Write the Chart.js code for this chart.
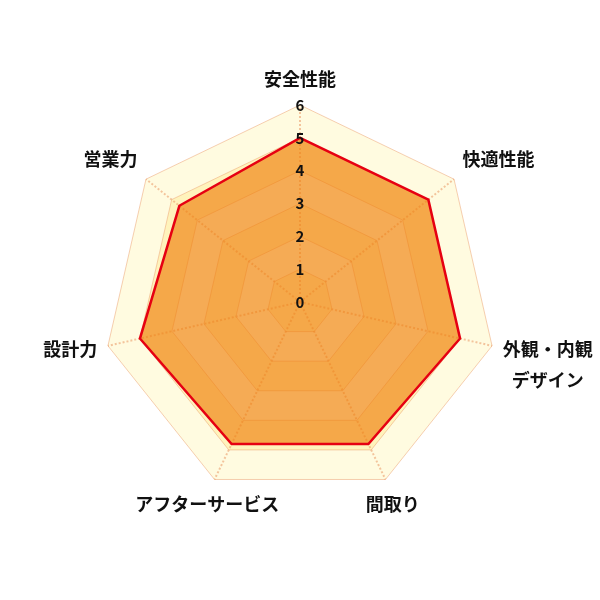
<!DOCTYPE html>
<html lang="ja">
<head>
<meta charset="UTF-8">
<title>評価レーダーチャート</title>
<script src="https://cdn.jsdelivr.net/npm/chart.js"></script>
<style>
  html, body { margin: 0; padding: 0; background: #fff; }
  #wrap { width: 600px; height: 600px; }
</style>
</head>
<body>
<div id="wrap"><canvas id="radar"></canvas></div>
<script>
  const labels = ['安全性能', '快適性能', ['外観・内観', 'デザイン'], '間取り', 'アフターサービス', '設計力', '営業力'];
  const scores = [5, 5, 5, 4.8, 4.8, 5, 4.7];
  const scaleMin = 0;
  const scaleMax = 6;

  const fontFamily = '"Noto Sans CJK JP", "Noto Sans", sans-serif';

  const radarPlugin = {
    id: 'radarExtras',
    // alternating bands behind the grid
    beforeDraw(chart) {
      const r = chart.scales.r;
      const ctx = chart.ctx;
      const n = chart.data.labels.length;
      ctx.save();
      for (let v = scaleMax; v > scaleMin; v--) {
        ctx.beginPath();
        for (let i = 0; i < n; i++) {
          const p = r.getPointPositionForValue(i, v);
          if (i === 0) ctx.moveTo(p.x, p.y); else ctx.lineTo(p.x, p.y);
        }
        ctx.closePath();
        ctx.fillStyle = v % 2 === 0 ? '#FFFBE0' : '#FFF3BC';
        ctx.fill();
      }
      ctx.restore();
    },
    afterDatasetsDraw(chart) {
      const r = chart.scales.r;
      const ctx = chart.ctx;
      ctx.save();
      // chart.js skips the first tick on radial scales, put the 0 back
      ctx.font = 'bold 15px ' + fontFamily;
      ctx.fillStyle = '#111';
      ctx.textAlign = 'center';
      ctx.textBaseline = 'middle';
      ctx.fillText(String(scaleMin), r.xCenter, r.yCenter);

      // axis names, placed just outside the outer ring
      ctx.font = 'bold 18px ' + fontFamily;
      const lineH = 31;
      chart.data.labels.forEach((lab, i) => {
        const lines = Array.isArray(lab) ? lab : [lab];
        const px = r.getPointPosition(i, r.drawingArea + 11);
        const py = r.getPointPosition(i, r.drawingArea + 17);
        const s = Math.sin(py.angle + Math.PI / 2);
        const c = Math.cos(py.angle + Math.PI / 2);
        const w = Math.max(...lines.map(t => ctx.measureText(t).width));
        let cx = py.x;
        if (Math.abs(s) >= 0.5) cx = s > 0 ? px.x + w / 2 : px.x - w / 2;
        ctx.textAlign = 'center';
        ctx.textBaseline = c > 0.5 ? 'bottom' : (c < -0.5 ? 'top' : 'middle');
        lines.forEach((t, k) => ctx.fillText(t, cx, py.y + k * lineH));
      });
      ctx.restore();
    }
  };

  const ctx = document.getElementById('radar').getContext('2d');
  new Chart(ctx, {
    type: 'radar',
    data: {
      labels: labels,
      datasets: [{
        label: '評価',
        data: scores,
        borderColor: '#E60012',
        borderWidth: 2.5,
        backgroundColor: 'rgba(240, 128, 10, 0.65)',
        fill: true,
        pointRadius: 0,
        pointHoverRadius: 0
      }]
    },
    options: {
      responsive: true,
      maintainAspectRatio: false,
      animation: false,
      plugins: {
        legend: { display: false },
        tooltip: { enabled: false }
      },
      layout: { padding: { top: 95, bottom: 91, left: 93, right: 93 } },
      scales: {
        r: {
          min: scaleMin,
          max: scaleMax,
          ticks: {
            stepSize: 1,
            z: 1,
            showLabelBackdrop: false,
            color: '#111',
            font: { family: fontFamily, size: 15, weight: 'bold' }
          },
          grid: {
            color: 'rgba(235, 160, 110, 0.5)',
            lineWidth: 1
          },
          angleLines: {
            color: 'rgba(235, 160, 110, 0.6)',
            lineWidth: 2,
            borderDash: [2, 2]
          },
          pointLabels: { display: false }
        }
      }
    },
    plugins: [radarPlugin]
  });
</script>
</body>
</html>
